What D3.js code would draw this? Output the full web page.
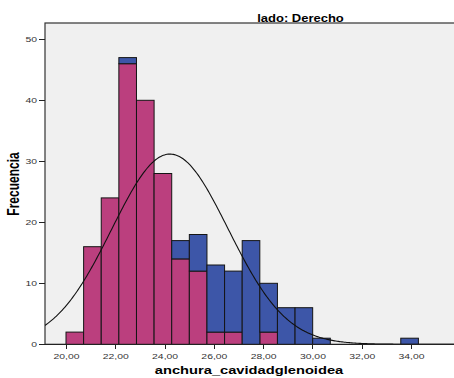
<!DOCTYPE html>
<meta charset="utf-8">
<style>
body { margin: 0; background: #fff; }
text { font-family: "Liberation Sans", Arial, sans-serif; }
.axis path, .axis line { stroke: #222; shape-rendering: crispEdges; }
.axis text { font-size: 8px; fill: #333; }
</style>
<svg width="454" height="378"></svg>
<script src="https://cdnjs.cloudflare.com/ajax/libs/d3/7.8.5/d3.min.js"></script>
<script>

// histogram bins (lower edge of each bin, width binWidth)
var binStart = 20.0, binWidth = 0.715;
var countsMagenta = [2,16,24,46,40,28,14,12,2,2,0,2,0,0,0,0,0,0,0,0];
var countsBlue    = [0,0,0,1,0,0,3,6,11,10,17,8,6,6,1,0,0,0,0,1];
var xTicks = [20,22,24,26,28,30,32,34];
var yTicks = [0,10,20,30,40,50];
// fitted normal curve
var curveMean = 24.22, curveSd = 2.36;

var stretch = 1.3; // text in the picture is drawn a bit wide

var svg = d3.select("svg");
var pLeft = 45, pTop = 23, pRight = 470, pBottom = 344.3;

var x = d3.scaleLinear().domain([20, 34]).range([66, 411]);
var y = d3.scaleLinear().domain([0, 50]).range([pBottom, pBottom - 305]);

svg.append("defs").append("clipPath").attr("id", "clip")
  .append("rect").attr("x", pLeft).attr("y", pTop).attr("width", pRight - pLeft).attr("height", pBottom - pTop);

svg.append("rect")
  .attr("x", pLeft).attr("y", pTop)
  .attr("width", pRight - pLeft).attr("height", pBottom - pTop)
  .attr("fill", "#f0f0f0")
  .attr("stroke", "#333").attr("stroke-width", 1.2);

var bins = countsMagenta.map(function(m, i) {
  return { x0: binStart + i * binWidth, x1: binStart + (i + 1) * binWidth, m: m, b: countsBlue[i] };
});

var g = svg.append("g");

g.selectAll(".barM").data(bins.filter(function(d){ return d.m > 0; }))
  .enter().append("rect").attr("class", "barM")
  .attr("x", function(d){ return x(d.x0); })
  .attr("width", function(d){ return x(d.x1) - x(d.x0); })
  .attr("y", function(d){ return y(d.m); })
  .attr("height", function(d){ return y(0) - y(d.m); })
  .attr("fill", "#bb3f7e").attr("stroke", "#151515").attr("stroke-width", 1);

g.selectAll(".barB").data(bins.filter(function(d){ return d.b > 0; }))
  .enter().append("rect").attr("class", "barB")
  .attr("x", function(d){ return x(d.x0); })
  .attr("width", function(d){ return x(d.x1) - x(d.x0); })
  .attr("y", function(d){ return y(d.m + d.b); })
  .attr("height", function(d){ return y(d.m) - y(d.m + d.b); })
  .attr("fill", "#3d56a8").attr("stroke", "#151515").attr("stroke-width", 1);

// normal curve scaled to counts
var total = d3.sum(countsMagenta) + d3.sum(countsBlue);
var xs = d3.range(18.5, 36.5, 0.05);
var line = d3.line()
  .x(function(v){ return x(v); })
  .y(function(v){
    var z = (v - curveMean) / curveSd;
    return y(total * binWidth * Math.exp(-0.5 * z * z) / (curveSd * Math.sqrt(2 * Math.PI)));
  });
svg.append("path").datum(xs)
  .attr("d", line).attr("fill", "none")
  .attr("stroke", "#111").attr("stroke-width", 1.1)
  .attr("clip-path", "url(#clip)");

// axes
var xAxis = svg.append("g").attr("class", "axis")
  .attr("transform", "translate(0," + pBottom + ")")
  .call(d3.axisBottom(x).tickValues(xTicks).tickSize(5).tickSizeOuter(0)
    .tickFormat(function(d){ return d3.format(".2f")(d).replace(".", ","); }));
xAxis.select(".domain").attr("d", "M" + pLeft + ",0H" + pRight);
xAxis.selectAll("text").attr("y", 0).attr("dy", 0).attr("fill", "#333")
  .attr("transform", "translate(0,14.5) scale(" + stretch + ",1)");

var yAxis = svg.append("g").attr("class", "axis")
  .attr("transform", "translate(" + pLeft + ",0)")
  .call(d3.axisLeft(y).tickValues(yTicks).tickSize(6).tickSizeOuter(0));
yAxis.select(".domain").remove();
yAxis.selectAll("text").attr("x", 0).attr("dy", "0.32em").attr("fill", "#333")
  .attr("transform", "translate(-8,0) scale(" + stretch + ",1)");

// titles
svg.append("text")
  .attr("transform", "translate(300.5,21.5) scale(" + stretch + ",1)")
  .attr("text-anchor", "middle")
  .style("font-size", "10px").style("font-weight", "bold")
  .text("lado: Derecho");

svg.append("text")
  .attr("transform", "translate(249,374) scale(" + stretch + ",1)")
  .attr("text-anchor", "middle")
  .style("font-size", "11.3px").style("font-weight", "bold")
  .text("anchura_cavidadglenoidea");

svg.append("text")
  .attr("transform", "translate(19,184) scale(" + stretch + ",1) rotate(-90)")
  .attr("text-anchor", "middle")
  .style("font-size", "12px").style("font-weight", "bold")
  .text("Frecuencia");

</script>
